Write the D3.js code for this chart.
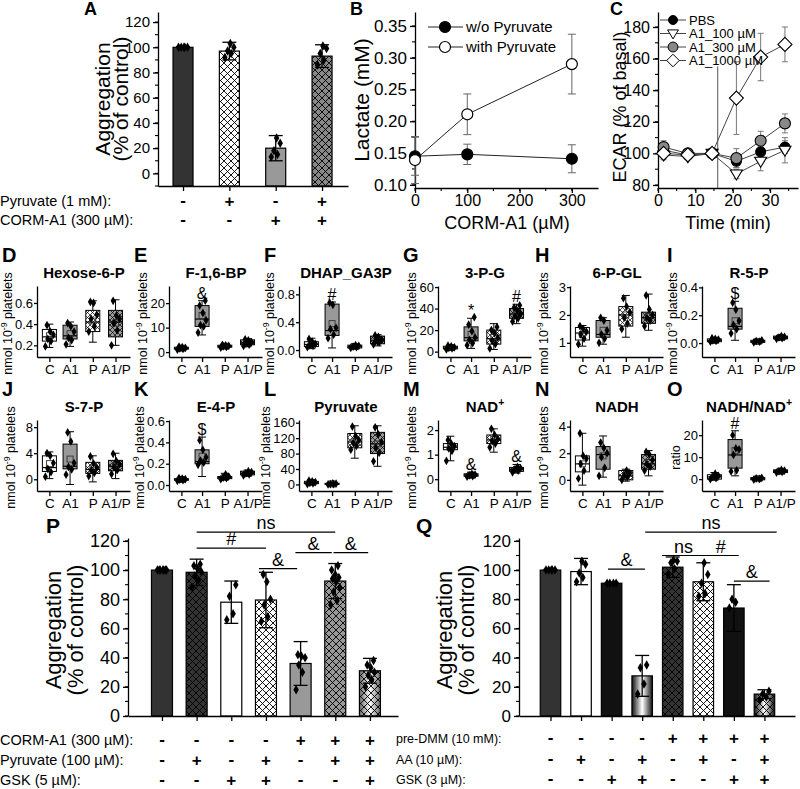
<!DOCTYPE html>
<html><head><meta charset="utf-8">
<script src="https://cdn.jsdelivr.net/npm/d3@7"></script>
<style>body{margin:0;background:#fff}svg{font-family:"Liberation Sans",Arial,sans-serif}</style>
</head><body>
<svg id="fig" width="800" height="789"></svg>
<script>
// ---- data ----
// A
const aValues = [100, 97, 20, 93];
const aErrors = [0.5, 7, 10, 9];
const aPoints = [[100,100,100,100,100],[92,95,97,100,103],[13,15,18,24,28],[86,90,95,99,101]];
const aPyruvate = ['-','+','-','+'];
const aCorm = ['-','-','+','+'];
// B
const bDoses = [0, 100, 300];
const bWithout = [0.145, 0.148, 0.141];
const bWithoutErr = [0.03, 0.016, 0.022];
const bWith = [0.139, 0.211, 0.29];
const bWithErr = [0.037, 0.032, 0.047];
// C
const cTimes = [1.5, 8, 14.5, 21, 27.5, 34];
const cNames = ['PBS', 'A1_100 \u00b5M', 'A1_300 \u00b5M', 'A1_1000 \u00b5M'];
const cPBS = [102, 99, 100, 95, 101, 104];
const cPBSErr = [3, 2, 1, 4, 3, 4];
const cA100 = [99, 98, 100, 87, 95, 102];
const cA100Err = [3, 2, 1, 3, 6, 8];
const cA300 = [104, 100, 100, 97, 108, 119];
const cA300Err = [4, 2, 1, 6, 6, 6];
const cA1000 = [100, 99, 100, 135, 161, 169];
const cA1000Err = [3, 2, 1, 23, 15, 11];
const cInjection = 16;
// D-O box panels: [low whisker, q1, median, q3, high whisker, mean], points
const groups = ['C', 'A1', 'P', 'A1/P'];
const hexose6P = [[0.18,0.24,0.28,0.35,0.40,0.29],[0.19,0.26,0.29,0.39,0.42,0.31],[0.23,0.33,0.42,0.53,0.62,0.43],[0.20,0.28,0.42,0.53,0.63,0.41]];
const hexose6PPts = [[0.19,0.24,0.26,0.30,0.33,0.39],[0.21,0.25,0.27,0.33,0.38,0.41],[0.33,0.38,0.45,0.49,0.60,0.61],[0.20,0.34,0.41,0.45,0.48,0.62]];
const f16bp = [[0.8,1.2,1.5,2.0,2.4,1.6],[7,10.5,13.5,19,21,15],[1.6,2.0,2.3,2.8,3.2,2.4],[2.2,3.0,3.8,5.0,5.5,4.0]];
const f16bpPts = [[1.0,1.3,1.5,1.7,2.0,2.2],[8,10.5,11,13,16,19,21],[1.8,2.1,2.3,2.5,2.8,3.0],[2.5,3.0,3.5,4.1,4.8,5.2]];
const dhap = [[0.02,0.05,0.08,0.12,0.17,0.09],[0.03,0.21,0.28,0.66,0.69,0.38],[0.02,0.03,0.05,0.07,0.09,0.05],[0.06,0.09,0.14,0.20,0.22,0.14]];
const dhapPts = [[0.04,0.06,0.07,0.09,0.12,0.16],[0.17,0.22,0.30,0.32,0.65,0.68],[0.03,0.04,0.05,0.06,0.07],[0.08,0.11,0.13,0.15,0.19,0.21]];
const pg3 = [[1,2.5,3.5,5,6,3.8],[3,10,13,23,31,16],[2,7,12,20,26,13],[26,31,35,40,44,35]];
const pg3Pts = [[2,3,3.5,4,5,5.5],[6,8,11,13,19,25,32],[3,7,10,13,17,20,23],[28,31,33,35,38,41,43]];
const pgl6 = [[0.88,1.1,1.35,1.55,1.62,1.3],[0.95,1.2,1.3,1.8,1.9,1.45],[1.2,1.6,2.0,2.3,2.7,2.0],[1.45,1.7,1.9,2.1,2.75,1.95]];
const pgl6Pts = [[0.95,1.15,1.3,1.4,1.5,1.6],[1.0,1.15,1.3,1.45,1.8,1.9],[1.5,1.7,1.9,2.1,2.3,2.6],[1.6,1.8,1.9,2.0,2.2,2.7]];
const r5p = [[0.0,0.01,0.02,0.03,0.04,0.02],[0.02,0.10,0.12,0.25,0.30,0.16],[0.0,0.005,0.01,0.02,0.025,0.012],[0.025,0.03,0.04,0.05,0.055,0.04]];
const r5pPts = [[0.01,0.015,0.02,0.025,0.03,0.035],[0.07,0.10,0.13,0.16,0.24,0.29],[0.005,0.01,0.015,0.02],[0.03,0.035,0.04,0.045,0.05]];
const s7p = [[0.1,1.2,1.8,3.6,4.2,2.4],[-0.8,1.6,2.0,5.4,7.3,3.1],[-0.4,0.9,1.5,2.6,3.6,1.7],[0.1,1.3,2.0,2.9,4.0,2.1]];
const s7pPts = [[0.4,1.1,1.6,2.5,3.6,4.0],[0.7,1.5,1.9,2.5,5.8,7.2],[0.5,1.0,1.4,1.8,2.4,3.5],[0.8,1.4,1.9,2.3,2.8,3.9]];
const e4p = [[0.03,0.045,0.05,0.06,0.07,0.052],[0.08,0.20,0.22,0.33,0.45,0.27],[0.05,0.06,0.07,0.08,0.11,0.072],[0.08,0.095,0.11,0.13,0.14,0.11]];
const e4pPts = [[0.04,0.045,0.05,0.055,0.06,0.065],[0.19,0.21,0.23,0.26,0.33,0.42],[0.055,0.065,0.07,0.08,0.10],[0.09,0.10,0.11,0.12,0.13]];
const pyruvate = [[0,2,4,8,12,5],[-1,0,1,3,5,1.5],[68,95,110,132,152,112],[47,80,105,135,152,105]];
const pyruvatePts = [[1,3,4,6,8,10],[0,0.5,1,2,3],[90,100,108,115,125,150],[60,82,95,110,130,148]];
const nad = [[0.75,1.2,1.3,1.45,1.75,1.3],[0.05,0.12,0.17,0.22,0.28,0.17],[1.1,1.45,1.6,1.8,2.05,1.62],[0.25,0.32,0.40,0.48,0.60,0.40]];
const nadPts = [[0.75,1.15,1.25,1.35,1.45,1.6],[0.10,0.13,0.16,0.19,0.22],[1.3,1.45,1.55,1.65,1.8,2.05],[0.28,0.35,0.40,0.45,0.50]];
const nadh = [[-0.4,0.6,1.2,1.8,3.5,1.2],[0.2,0.8,1.9,2.5,3.3,1.8],[-0.1,0.0,0.3,0.7,0.8,0.3],[0.3,0.8,1.2,1.9,2.2,1.3]];
const nadhPts = [[0.1,0.7,1.2,1.6,1.8,3.5],[0.3,0.9,1.7,2.0,2.4,2.8],[0.0,0.2,0.35,0.5,0.7],[0.7,1.0,1.2,1.5,1.9,2.1]];
const ratio = [[-0.5,0,1,2,3,1],[1.5,5,11,18,22,13],[-0.5,-0.3,0.2,0.7,1,0.2],[2.5,3,3.6,4.2,4.5,3.6]];
const ratioPts = [[0,0.5,1,1.5,2.5],[3.5,4,11,13.5,14,20],[-0.2,0.1,0.3,0.6],[3,3.3,3.6,3.9,4.2]];
// P
const pValues = [100, 98.5, 78, 79.5, 36, 92.5, 31];
const pErrors = [0.5, 9, 14.5, 19, 15, 12, 8.5];
const pPoints = [[100,100,100,100,100,100,100],[88,93,96,99,101,103,104],[66,70,82,90],[65,68,76,80,92,97],[18,30,35,40,41,42],[76,79,85,88,92,94,95,97,100,103],[20,25,28,30,33,35,38]];
const pRowLabels = ['CORM-A1 (300 \u00b5M):', 'Pyruvate (100 \u00b5M):', 'GSK (5 \u00b5M):'];
const pSigns = [['-','-','-','-','+','+','+'],['-','+','-','+','-','+','+'],['-','-','+','+','-','-','+']];
const pSig = [[1,5,126,'ns'],[1,3,115,'#'],[2.8,3.9,101,'&'],[3.85,4.9,112,'&'],[4.95,5.95,112,'&']];
// Q
const qValues = [100, 99, 91, 27.5, 102, 92, 74, 15];
const qErrors = [0.5, 9, 0.6, 14, 7, 13, 16, 3];
const qPoints = [[100,100,100,100,100],[92,95,98,104,106],[91,91,91,91],[15,22,33,35],[97,101,105,106,107],[82,84,91,97,105],[74,78,80],[11,13,15,17]];
const qRowLabels = ['pre-DMM (10 mM):', 'AA (10 \u00b5M):', 'GSK (3 \u00b5M):'];
const qSigns = [['-','-','-','-','+','+','+','+'],['-','+','-','+','-','+','-','+'],['-','-','+','+','-','-','+','+']];
const qSig = [[3.1,7.4,126,'ns'],[3.65,5.05,110,'ns'],[4.98,6.16,110,'#'],[1.88,3.09,100.7,'&'],[6.0,7.17,92.5,'&']];

// ---- drawing ----
const FONT = '"Liberation Sans", Arial, sans-serif';
const svg = d3.select('#fig');
const defs = svg.append('defs');
function hatch(id, s, w) {
  defs.append('pattern').attr('id', id).attr('patternUnits', 'userSpaceOnUse')
    .attr('width', s).attr('height', s)
    .append('path').attr('d', `M0,0L${s},${s}M${s},0L0,${s}`)
    .attr('stroke', '#000').attr('stroke-width', w);
}
hatch('hatchBig', 7, 0.9);
hatch('hatchSmall', 5, 0.7);
function grad(id, edge) {
  const g = defs.append('linearGradient').attr('id', id).attr('x1', 0).attr('x2', 1).attr('y1', 0).attr('y2', 0);
  g.append('stop').attr('offset', 0).attr('stop-color', edge);
  g.append('stop').attr('offset', 0.5).attr('stop-color', '#fff');
  g.append('stop').attr('offset', 1).attr('stop-color', edge);
}
grad('gradDark', '#111');
grad('gradGray', '#666');

function text(x, y, s, fs, opt) {
  opt = opt || {};
  return svg.append('text').attr('x', x).attr('y', y).text(s)
    .attr('font-size', fs).attr('font-weight', opt.bold ? 'bold' : null)
    .attr('text-anchor', opt.anchor || 'start').attr('fill', '#000');
}
// parts: [[string, isSuperscript], ...]
function rich(sel, parts, fs) {
  parts.forEach(p => {
    const t = sel.append('tspan').text(p[0]);
    if (p[1]) t.attr('font-size', fs * 0.7).attr('dy', -fs * 0.4);
    else if (sel.selectAll('tspan').size() > 1) t.attr('dy', fs * 0.4);
  });
  return sel;
}
function styleAxis(g, fs) {
  g.attr('font-family', FONT);
  g.select('.domain').attr('stroke', '#000').attr('stroke-width', 1.3);
  g.selectAll('.tick line').attr('stroke', '#000').attr('stroke-width', 1.3);
  g.selectAll('.tick text').attr('font-size', fs).attr('fill', '#000');
}
function minorTicks(g, scale, step, vertical, len) {
  const d = scale.domain();
  const vals = d3.range(Math.ceil(d[0] / step) * step, d[1], step);
  vals.forEach(v => {
    if (vertical) g.append('line').attr('x1', 0).attr('x2', -len).attr('y1', scale(v)).attr('y2', scale(v));
    else g.append('line').attr('y1', 0).attr('y2', len).attr('x1', scale(v)).attr('x2', scale(v));
  });
  g.selectAll('line').attr('stroke', '#000').attr('stroke-width', 1.1);
}
function yAxis(x, scale, ticks, fmt, fs, minor, size, pad) {
  const g = svg.append('g').attr('transform', `translate(${x},0)`);
  if (minor) minorTicks(g.append('g'), scale, minor, true, 3);
  g.call(d3.axisLeft(scale).tickValues(ticks).tickFormat(fmt).tickSize(size || 5).tickSizeOuter(0).tickPadding(pad == null ? 3 : pad));
  styleAxis(g, fs);
  return g;
}
function xAxis(y, scale, ticks, fmt, fs, minor) {
  const g = svg.append('g').attr('transform', `translate(0,${y})`);
  if (minor) minorTicks(g.append('g'), scale, minor, false, 3);
  g.call(d3.axisBottom(scale).tickValues(ticks).tickFormat(fmt).tickSize(5).tickSizeOuter(0).tickPadding(2));
  styleAxis(g, fs);
  return g;
}
function yLabel(x, y, lines, fs, gap) {
  lines.forEach((l, i) => {
    text(0, 0, l, fs, { anchor: 'middle' }).attr('transform', `translate(${x + i * gap},${y}) rotate(-90)`);
  });
}
function diamond(g, x, y, size) {
  g.append('path').attr('d', d3.symbol(d3.symbolDiamond, size)()).attr('transform', `translate(${x},${y})`).attr('fill', '#000');
}

// bar charts (A, P, Q)
function barChart(c) {
  const g = svg.append('g');
  const x = d3.scaleLinear().domain(c.xDomain).range(c.xRange);
  const y = d3.scaleLinear().domain(c.yDomain).range(c.yRange);
  const base = c.yRange[0];
  c.values.forEach((v, i) => {
    const r = { x: x(i) - c.bw / 2, y: y(v), w: c.bw, h: base - y(v) };
    const rect = f => g.append('rect').attr('x', r.x).attr('y', r.y).attr('width', r.w).attr('height', r.h).attr('fill', f);
    rect(c.fills[i]);
    if (c.hatch[i]) rect('url(#hatchBig)');
    rect('none').attr('stroke', '#000').attr('stroke-width', 1.2);
  });
  c.values.forEach((v, i) => {
    const cx = x(i), e = c.errors[i];
    g.append('line').attr('x1', cx).attr('x2', cx).attr('y1', y(v - e)).attr('y2', y(v + e));
    [v - e, v + e].forEach(t => g.append('line').attr('x1', cx - 7).attr('x2', cx + 7).attr('y1', y(t)).attr('y2', y(t)));
    c.points[i].forEach((p, j) => diamond(g, cx + ((j * 7) % 11 - 5) * 0.9, y(p), 26));
  });
  g.selectAll('line').attr('stroke', '#000').attr('stroke-width', 1.3);
  yAxis(c.xRange[0], y, c.yTicks, d3.format('d'), c.tickFs, 10);
  xAxis(base, x, d3.range(c.values.length), '', 0);
  c.rows.forEach((row, r) => {
    text(c.rowX, c.rowY[r], c.rowLabels[r], c.rowFs);
    row.forEach((s, i) => text(x(i), c.rowY[r] + (s === '+' ? 1 : 0), s, 17, { bold: true, anchor: 'middle' }));
  });
  (c.sig || []).forEach(s => {
    const yy = y(s[2]);
    svg.append('line').attr('x1', x(s[0])).attr('x2', x(s[1])).attr('y1', yy).attr('y2', yy).attr('stroke', '#000').attr('stroke-width', 1.2);
    text((x(s[0]) + x(s[1])) / 2, yy - 3, s[3], 18, { anchor: 'middle' });
  });
  return { x, y };
}

// Panel A
text(84, 15, 'A', 18, { bold: true });
yLabel(110, 99, ['Aggregation', '(% of control)'], 21, 18);
barChart({
  values: aValues, errors: aErrors, points: aPoints,
  xDomain: [-0.54, 3.56], xRange: [158, 348], yDomain: [-10, 128], yRange: [186, 12],
  bw: 20, fills: ['#333', '#fff', '#999', '#888'], hatch: [false, true, false, true],
  yTicks: d3.range(0, 121, 20), tickFs: 15,
  rows: [aPyruvate, aCorm], rowLabels: ['Pyruvate (1 mM):', 'CORM-A1 (300 \u00b5M):'], rowX: 0, rowY: [206, 225], rowFs: 14.5
});

// Panel B
text(350, 15, 'B', 18, { bold: true });
{
  const x = d3.scaleLinear().domain([0, 350]).range([415, 598]);
  const y = d3.scaleLinear().domain([0.095, 0.372]).range([188, 12]);
  yAxis(415, y, d3.range(0.10, 0.36, 0.05), d3.format('.2f'), 17, 0.025);
  xAxis(188, x, [0, 100, 200, 300], d3.format('d'), 16, 50);
  yLabel(369, 100, ['Lactate (mM)'], 21, 0);
  text(507, 229, 'CORM-A1 (\u00b5M)', 18, { anchor: 'middle' });
  const line = d3.line().x((d, i) => x(bDoses[i])).y(d => y(d));
  const g = svg.append('g');
  [[bWithout, bWithoutErr, '#000'], [bWith, bWithErr, '#fff']].forEach(s => {
    s[0].forEach((v, i) => {
      const cx = x(bDoses[i]);
      g.append('line').attr('x1', cx).attr('x2', cx).attr('y1', y(v - s[1][i])).attr('y2', y(v + s[1][i])).attr('stroke', '#666');
      [v - s[1][i], v + s[1][i]].forEach(t => g.append('line').attr('x1', cx - 4).attr('x2', cx + 4).attr('y1', y(t)).attr('y2', y(t)).attr('stroke', '#666'));
    });
  });
  [[bWithout, '#000'], [bWith, '#fff']].forEach(s => {
    g.append('path').attr('d', line(s[0])).attr('fill', 'none').attr('stroke', '#222').attr('stroke-width', 1);
  });
  [[bWithout, '#000'], [bWith, '#fff']].forEach(s => {
    s[0].forEach((v, i) => g.append('circle').attr('cx', x(bDoses[i])).attr('cy', y(v)).attr('r', 5.5).attr('fill', s[1]).attr('stroke', '#000').attr('stroke-width', 1.2));
  });
  [['w/o Pyruvate', '#000', 27], ['with Pyruvate', '#fff', 47]].forEach(l => {
    svg.append('line').attr('x1', 428).attr('x2', 463).attr('y1', l[2]).attr('y2', l[2]).attr('stroke', '#222');
    svg.append('circle').attr('cx', 445).attr('cy', l[2]).attr('r', 5.5).attr('fill', l[1]).attr('stroke', '#000').attr('stroke-width', 1.2);
    text(466, l[2] + 5, l[0], 15);
  });
}

// Panel C
text(610, 15, 'C', 18, { bold: true });
{
  const x = d3.scaleLinear().domain([0, 37.5]).range([658, 798]);
  const y = d3.scaleLinear().domain([78.1, 189.5]).range([188, 12]);
  yAxis(658, y, d3.range(80, 181, 20), d3.format('d'), 16, 10);
  xAxis(188, x, [0, 10, 20, 30], d3.format('d'), 16, 5);
  yLabel(626, 107, ['ECAR (% of basal)'], 18, 0);
  text(728, 229, 'Time (min)', 18, { anchor: 'middle' });
  svg.append('line').attr('x1', x(cInjection)).attr('x2', x(cInjection)).attr('y1', y(155)).attr('y2', 188).attr('stroke', '#555').attr('stroke-width', 1);
  const series = [[cPBS, cPBSErr], [cA100, cA100Err], [cA300, cA300Err], [cA1000, cA1000Err]];
  const marker = [
    g => g.append('circle').attr('r', 5).attr('fill', '#000'),
    g => g.append('path').attr('d', 'M-6,-4L6,-4L0,6Z').attr('fill', '#fff'),
    g => g.append('circle').attr('r', 5.5).attr('fill', '#888'),
    g => g.append('path').attr('d', 'M0,-7L7,0L0,7L-7,0Z').attr('fill', '#fff')
  ];
  const g = svg.append('g');
  const line = d3.line().x((d, i) => x(cTimes[i])).y(d => y(d));
  series.forEach(s => s[0].forEach((v, i) => {
    const cx = x(cTimes[i]), e = s[1][i];
    g.append('line').attr('x1', cx).attr('x2', cx).attr('y1', y(v - e)).attr('y2', y(v + e)).attr('stroke', '#777');
    [v - e, v + e].forEach(t => g.append('line').attr('x1', cx - 3).attr('x2', cx + 3).attr('y1', y(t)).attr('y2', y(t)).attr('stroke', '#777'));
  }));
  series.forEach(s => g.append('path').attr('d', line(s[0])).attr('fill', 'none').attr('stroke', '#444').attr('stroke-width', 1));
  series.forEach((s, k) => s[0].forEach((v, i) => {
    const m = marker[k](g.append('g').attr('transform', `translate(${x(cTimes[i])},${y(v)})`));
    m.attr('stroke', '#000').attr('stroke-width', 1.1);
  }));
  cNames.forEach((n, k) => {
    const ly = 20 + k * 13.5;
    svg.append('line').attr('x1', 660).attr('x2', 686).attr('y1', ly).attr('y2', ly).attr('stroke', '#444');
    marker[k](svg.append('g').attr('transform', `translate(673,${ly}) scale(0.9)`)).attr('stroke', '#000').attr('stroke-width', 1.1);
    text(689, ly + 4.5, n, 13);
  });
}

// Box panels D-O
const colX = [37, 169, 299, 438, 570, 702];
const rowTop = [286, 420];
const plotH = 71;
const groupPos = [1, 2, 3.1, 4.2];
const boxFill = ['#fff', '#999', '#fff', '#999'];
const boxHatch = [false, false, true, true];
const nmolLabel = [['nmol 10', false], ['-9', true], [' platelets', false]];
function boxPanel(letter, col, row, title, stats, pts, domain, ticks, fmt, sig, ylab) {
  const ax = colX[col], top = rowTop[row], bottom = top + plotH;
  const x = d3.scaleLinear().domain([0.4, 4.9]).range([ax, ax + 93]);
  const y = d3.scaleLinear().domain(domain).range([bottom, top]);
  text(ax - 35, top - 24, letter, 20, { bold: true });
  rich(text(ax + 47, top - 8, '', 15, { bold: true, anchor: 'middle' }), title, 15);
  const g = svg.append('g');
  const bw = 14;
  stats.forEach((s, i) => {
    const cx = x(groupPos[i]);
    g.append('line').attr('x1', cx).attr('x2', cx).attr('y1', y(s[0])).attr('y2', y(s[4])).attr('stroke', '#000');
    [s[0], s[4]].forEach(t => g.append('line').attr('x1', cx - 4).attr('x2', cx + 4).attr('y1', y(t)).attr('y2', y(t)).attr('stroke', '#000'));
    const rect = f => g.append('rect').attr('x', cx - bw / 2).attr('y', y(s[3])).attr('width', bw).attr('height', Math.max(1, y(s[1]) - y(s[3]))).attr('fill', f);
    rect(boxFill[i]);
    if (boxHatch[i]) rect('url(#hatchSmall)');
    rect('none').attr('stroke', '#000').attr('stroke-width', 1);
    g.append('line').attr('x1', cx - bw / 2).attr('x2', cx + bw / 2).attr('y1', y(s[2])).attr('y2', y(s[2])).attr('stroke', '#000').attr('stroke-width', 1.2);
    g.append('rect').attr('x', cx - 3).attr('y', y(s[5]) - 3).attr('width', 6).attr('height', 6).attr('fill', 'none').attr('stroke', '#333').attr('stroke-width', 0.9);
    pts[i].forEach((p, j) => diamond(g, cx + ((j * 7) % 11 - 5) * 0.8, y(p), 22));
  });
  const ya = yAxis(ax, y, ticks, d3.format(fmt), 13, null, 3, 1);
  xAxis(bottom, x, groupPos, (d, i) => groups[i], 13.5);
  // keep the axis title clear of the widest tick label, and inside the page
  let w = 0;
  ya.selectAll('.tick text').each(function () { w = Math.max(w, this.getComputedTextLength()); });
  const lx = Math.max(12, Math.min(ax - 22, ax - 4 - w - 3));
  const lab = text(0, 0, '', 12.5, { anchor: 'middle' }).attr('transform', `translate(${lx},${(top + bottom) / 2 + 2}) rotate(-90)`);
  rich(lab, ylab, 12.5);
  (sig || []).forEach(s => text(x(groupPos[s[0]]), y(stats[s[0]][4]) - 2, s[1], 16, { anchor: 'middle' }));
}
boxPanel('D', 0, 0, [['Hexose-6-P']], hexose6P, hexose6PPts, [0.09, 0.76], [0.2, 0.4, 0.6], '.1f', null, nmolLabel);
boxPanel('E', 1, 0, [['F-1,6-BP']], f16bp, f16bpPts, [-2, 27], [0, 10, 20], 'd', [[1, '&']], nmolLabel);
boxPanel('F', 2, 0, [['DHAP_GA3P']], dhap, dhapPts, [-0.1, 0.92], [0, 0.4, 0.8], '.1f', [[1, '#']], nmolLabel);
boxPanel('G', 3, 0, [['3-P-G']], pg3, pg3Pts, [-5, 61], [0, 20, 40, 60], 'd', [[1, '*'], [3, '#']], nmolLabel);
boxPanel('H', 4, 0, [['6-P-GL']], pgl6, pgl6Pts, [0.49, 3.04], [1, 2, 3], 'd', null, nmolLabel);
boxPanel('I', 5, 0, [['R-5-P']], r5p, r5pPts, [-0.1, 0.41], [0, 0.2, 0.4], '.1f', [[1, '$']], nmolLabel);
boxPanel('J', 0, 1, [['S-7-P']], s7p, s7pPts, [-1.8, 9.1], [0, 4, 8], 'd', null, nmolLabel);
boxPanel('K', 1, 1, [['E-4-P']], e4p, e4pPts, [-0.056, 0.61], [0, 0.2, 0.4, 0.6], '.1f', [[1, '$']], nmolLabel);
boxPanel('L', 2, 1, [['Pyruvate']], pyruvate, pyruvatePts, [-17, 167], [0, 40, 80, 120, 160], 'd', null, nmolLabel);
boxPanel('M', 3, 1, [['NAD'], ['+', true]], nad, nadPts, [-0.48, 2.41], [0, 1, 2], 'd', [[1, '&'], [3, '&']], nmolLabel);
boxPanel('N', 4, 1, [['NADH']], nadh, nadhPts, [-0.84, 4.5], [0, 2, 4], 'd', null, nmolLabel);
boxPanel('O', 5, 1, [['NADH/NAD'], ['+', true]], ratio, ratioPts, [-5.4, 26.9], [0, 10, 20], 'd', [[1, '#']], [['ratio']]);

// Panel P
text(46, 533, 'P', 21, { bold: true });
yLabel(61, 630, ['Aggregation', '(% of control)'], 22, 22);
barChart({
  values: pValues, errors: pErrors, points: pPoints,
  xDomain: [-0.98, 6.81], xRange: [128, 398], yDomain: [0, 122], yRange: [716, 538],
  bw: 21, fills: ['#333', '#333', '#fff', '#fff', '#999', '#999', 'url(#gradGray)'], hatch: [false, true, false, true, false, true, true],
  yTicks: d3.range(0, 121, 20), tickFs: 18,
  rows: pSigns, rowLabels: pRowLabels, rowX: 0, rowY: [745, 765, 785], rowFs: 14.5, sig: pSig
});

// Panel Q
text(416, 533, 'Q', 21, { bold: true });
yLabel(452, 630, ['Aggregation', '(% of control)'], 22, 22);
barChart({
  values: qValues, errors: qErrors, points: qPoints,
  xDomain: [-1.03, 8.0], xRange: [519, 795], yDomain: [0, 122], yRange: [716, 538],
  bw: 20.5, fills: ['#333', '#fff', '#111', 'url(#gradDark)', '#333', '#fff', '#111', 'url(#gradDark)'], hatch: [false, false, false, false, true, true, false, true],
  yTicks: d3.range(0, 121, 20), tickFs: 17,
  rows: qSigns, rowLabels: qRowLabels, rowX: 396, rowY: [743, 764, 784], rowFs: 12.5, sig: qSig
});
</script>
</body></html>
